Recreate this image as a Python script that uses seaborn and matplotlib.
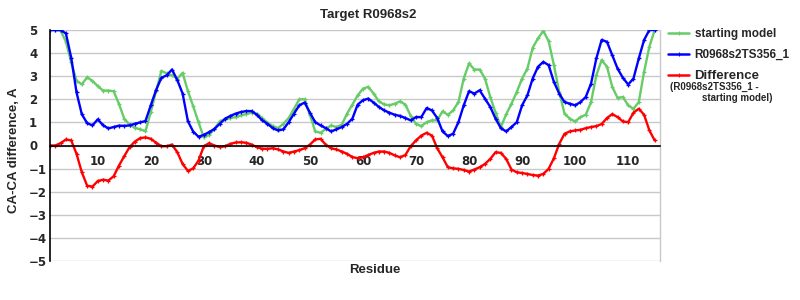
import matplotlib
matplotlib.use("Agg")
import matplotlib.pyplot as plt
import seaborn as sns
import pandas as pd
from matplotlib.lines import Line2D

residues = list(range(1, 116))

starting_model = [
    5.0, 5.0, 4.97, 4.5, 3.6, 2.8, 2.65, 2.95, 2.8, 2.57,
    2.38, 2.38, 2.35, 1.8, 1.16, 0.9, 0.77, 0.7, 0.62, 1.45,
    2.35, 3.23, 3.12, 3.04, 2.9, 3.14, 2.35, 1.7, 1.0, 0.35,
    0.46, 0.72, 1.04, 1.13, 1.19, 1.23, 1.3, 1.36, 1.42, 1.38,
    1.19, 0.99, 0.84, 0.75, 0.94, 1.19, 1.59, 2.0, 2.0, 1.33,
    0.61, 0.55, 0.72, 0.87, 0.8, 0.9, 1.38, 1.77, 2.17, 2.46,
    2.54, 2.25, 1.91, 1.78, 1.74, 1.81, 1.91, 1.77, 1.28, 0.94,
    0.84, 1.01, 1.09, 1.09, 1.48, 1.33, 1.52, 1.88, 2.9, 3.55,
    3.29, 3.29, 2.9, 2.1, 1.42, 0.8, 1.35, 1.81, 2.32, 2.9,
    3.33, 4.23, 4.64, 4.96, 4.52, 3.48, 2.32, 1.38, 1.16, 1.04,
    1.23, 1.33, 1.88, 3.04, 3.7, 3.41, 2.54, 2.06, 2.1, 1.74,
    1.59, 1.88, 3.19, 4.28, 5.0,
]

model_ts356 = [
    5.0, 5.0, 5.0, 4.85, 3.8, 2.3, 1.35, 0.97, 0.87, 1.13,
    0.88, 0.74, 0.8, 0.86, 0.85, 0.87, 0.94, 1.0, 1.06, 1.74,
    2.4, 2.93, 3.04, 3.29, 2.83, 2.25, 1.05, 0.6, 0.38, 0.46,
    0.58, 0.72, 0.94, 1.16, 1.28, 1.38, 1.45, 1.49, 1.49, 1.33,
    1.09, 0.94, 0.75, 0.65, 0.7, 1.01, 1.38, 1.74, 1.86, 1.42,
    1.01, 0.87, 0.75, 0.61, 0.7, 0.8, 0.94, 1.16, 1.77, 1.96,
    2.03, 1.86, 1.67, 1.52, 1.42, 1.33, 1.28, 1.19, 1.09, 1.23,
    1.23, 1.62, 1.52, 1.19, 0.61, 0.41, 0.51, 1.01, 1.74, 2.35,
    2.25, 2.39, 2.03, 1.67, 1.16, 0.75, 0.61, 0.8, 1.01, 1.74,
    2.17, 2.9, 3.41, 3.62, 3.48, 2.75, 2.25, 1.88, 1.81, 1.74,
    1.88, 2.1, 2.68, 3.77, 4.57, 4.49, 3.91, 3.33, 2.93, 2.64,
    2.9, 3.77, 4.57, 5.0, 5.0,
]

difference = [
    0.0, 0.0, 0.1, 0.26, 0.22, -0.36, -1.16, -1.74, -1.78, -1.54,
    -1.48, -1.52, -1.33, -0.87, -0.46, -0.07, 0.17, 0.32, 0.35, 0.29,
    0.12, -0.03, -0.03, 0.04, -0.29, -0.8, -1.1, -0.99, -0.65, -0.03,
    0.1, 0.0, -0.07, -0.03, 0.07, 0.13, 0.14, 0.12, 0.04, -0.07,
    -0.14, -0.14, -0.12, -0.17, -0.26, -0.32, -0.26, -0.2, -0.12, 0.04,
    0.26, 0.29, 0.03, -0.12, -0.17, -0.26, -0.36, -0.5, -0.55, -0.51,
    -0.41, -0.32, -0.26, -0.26, -0.32, -0.43, -0.51, -0.41, -0.03, 0.22,
    0.43, 0.55, 0.43, -0.12, -0.51, -0.94, -0.99, -1.01, -1.06, -1.13,
    -1.04, -0.94, -0.8, -0.58, -0.29, -0.32, -0.58, -1.04, -1.16, -1.19,
    -1.23, -1.28, -1.3, -1.23, -1.01, -0.55, 0.07, 0.51, 0.61, 0.65,
    0.68, 0.75, 0.8, 0.84, 0.93, 1.19, 1.36, 1.23, 1.04, 1.01,
    1.42, 1.59, 1.33, 0.65, 0.22,
]

x_ticks = [10, 20, 30, 40, 50, 60, 70, 80, 90, 100, 110]
y_ticks = [-5, -4, -3, -2, -1, 0, 1, 2, 3, 4, 5]

title = "Target R0968s2"
xlabel = "Residue"
ylabel = "CA-CA difference, A"
series_names = ["starting model", "R0968s2TS356_1", "Difference"]
colors = ["#66CC66", "#0000FF", "#FF0000"]

sns.set_style("white")
plt.rcParams["font.family"] = ["DejaVu Sans"]

df = pd.DataFrame({
    "Residue": residues * 3,
    "value": starting_model + model_ts356 + difference,
    "series": ([series_names[0]] * len(residues) + [series_names[1]] * len(residues)
               + [series_names[2]] * len(residues)),
})

fig = plt.figure(figsize=(8, 3), dpi=100)
ax = fig.add_axes([0.0625, 0.13, 0.7625, 0.77])

sns.lineplot(data=df, x="Residue", y="value", hue="series", hue_order=series_names,
             palette=colors, ax=ax, linewidth=1.7, marker="+", markersize=3,
             markeredgewidth=0.9, legend=False)
for ln in ax.lines:
    ln.set_markeredgecolor(ln.get_color())
    ln.set_markerfacecolor(ln.get_color())

ax.set_xlim(1, 116)
ax.set_ylim(-5, 5)
ax.set_yticks(y_ticks)
ax.set_xticks(x_ticks)
ax.yaxis.grid(True, color="#C8C8C8", linewidth=1.0)
ax.xaxis.grid(False)
ax.set_axisbelow(True)

ax.spines["bottom"].set_position(("data", 0))
ax.spines["bottom"].set_color("black")
ax.spines["bottom"].set_linewidth(1.2)
ax.spines["left"].set_color("black")
ax.spines["left"].set_linewidth(1.2)
ax.spines["top"].set_visible(False)
ax.spines["right"].set_color("#C8C8C8")
ax.spines["right"].set_linewidth(1.0)

ax.tick_params(axis="x", direction="out", length=4, color="#C8C8C8", width=1,
               pad=3, labelsize=8.5)
ax.tick_params(axis="y", length=0, pad=15, labelsize=8.5)
for lab in ax.get_xticklabels() + ax.get_yticklabels():
    lab.set_fontweight("bold")
for lab in ax.get_yticklabels():
    lab.set_horizontalalignment("left")

ax.set_xlabel(xlabel, fontsize=9.5, fontweight="bold", family="Liberation Sans")
ax.xaxis.set_label_coords((375 - 50) / 610, -9 / 231)
ax.xaxis.label.set_verticalalignment("center")
ax.set_ylabel(ylabel, fontsize=9.5, fontweight="bold", family="Liberation Sans")
ax.yaxis.set_label_coords((14 - 50) / 610, (261 - 150) / 231)
ax.yaxis.label.set_verticalalignment("center")

fig.text(368 / 800, 1 - 15 / 300, title, fontsize=9.5, fontweight="bold",
         family="Liberation Sans", ha="center", va="center")

handles = [Line2D([0], [0], color=c, linewidth=1.8, marker="+", markersize=3,
                  markeredgewidth=0.8) for c in colors]
leg = ax.legend(handles, series_names, loc="upper left",
                bbox_to_anchor=(668 / 800, 1 - 28 / 300), bbox_transform=fig.transFigure,
                frameon=False, borderpad=0, borderaxespad=0, handlelength=1.8,
                handletextpad=0.45, labelspacing=0.75,
                prop={"family": "Liberation Sans", "weight": "bold", "size": 8.5})
leg.get_texts()[2].set_fontsize(9.5)

fig.text(670 / 800, 1 - 87 / 300, "(R0968s2TS356_1 -", fontsize=7, fontweight="bold",
         family="Liberation Sans", va="center", ha="left")
fig.text(702 / 800, 1 - 98 / 300, "starting model)", fontsize=7, fontweight="bold",
         family="Liberation Sans", va="center", ha="left")

fig.savefig("out.png", dpi=100)
